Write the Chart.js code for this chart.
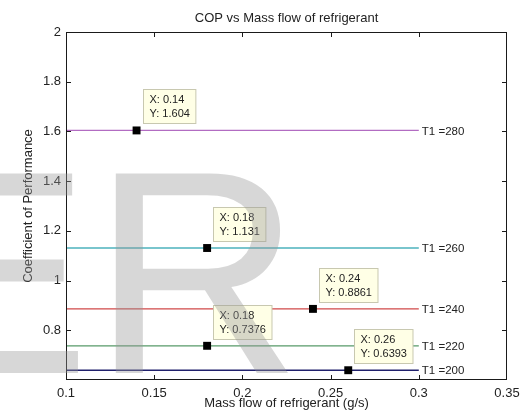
<!DOCTYPE html>
<html lang="en">
  <head>
    <meta charset="UTF-8" />
    <title>COP vs Mass flow of refrigerant</title>
    <script src="https://cdn.jsdelivr.net/npm/chart.js"></script>
    <style>
      html, body { margin: 0; padding: 0; background: #fff; }
      #wrap { width: 527px; height: 419px; }
    </style>
  </head>
  <body>
    <div id="wrap"><canvas id="chart"></canvas></div>
    <script>
      // curves: COP is constant over the mass flow range
      const flowRange = [0.1, 0.3];
      const curveLabels = ["T1 =280", "T1 =260", "T1 =240", "T1 =220", "T1 =200"];
      const copValues = [1.604, 1.131, 0.8861, 0.7376, 0.6393];

      // data tips
      const tipX = [0.14, 0.18, 0.24, 0.18, 0.26];
      const tipY = [1.604, 1.131, 0.8861, 0.7376, 0.6393];

      const lineColors = ["#b26cc2", "#4cb2bd", "#d04848", "#579a68", "#20206c"];
      const FONT = "'Liberation Sans', Arial, sans-serif";

      // matlab style tick text: 0.1, 1, 1.2 (no trailing zeros)
      const fmt = (v) => String(+v.toFixed(3));

      const datasets = copValues.map((v, i) => ({
        type: "line",
        label: curveLabels[i],
        data: flowRange.map((x) => ({ x: x, y: v })),
        borderColor: lineColors[i],
        borderWidth: 1.3,
        pointRadius: 0,
        order: 1,
      }));
      datasets.push({
        type: "scatter",
        label: "tips",
        data: tipX.map((x, i) => ({ x: x, y: tipY[i] })),
        pointStyle: "rect",
        pointRadius: 5.6,
        backgroundColor: "#000",
        borderColor: "#000",
        borderWidth: 0,
        order: 0,
      });

      const matlabPlugin = {
        id: "matlab",
        afterDatasetsDraw(chart) {
          const { ctx, chartArea: a, scales } = chart;
          const xs = scales.x, ys = scales.y;
          ctx.save();
          // axes box
          ctx.strokeStyle = "#1a1a1a";
          ctx.lineWidth = 1;
          ctx.strokeRect(a.left + 0.5, a.top + 0.5, a.right - a.left - 1, a.bottom - a.top - 1);
          // inward ticks
          ctx.beginPath();
          xs.ticks.forEach((t) => {
            const px = Math.round(xs.getPixelForValue(t.value)) + 0.5;
            if (px <= a.left + 1 || px >= a.right - 1) return;
            ctx.moveTo(px, a.bottom); ctx.lineTo(px, a.bottom - 5);
            ctx.moveTo(px, a.top); ctx.lineTo(px, a.top + 5);
          });
          ys.ticks.forEach((t) => {
            const py = Math.round(ys.getPixelForValue(t.value)) + 0.5;
            if (py <= a.top + 1 || py >= a.bottom - 1) return;
            ctx.moveTo(a.left, py); ctx.lineTo(a.left + 5, py);
            ctx.moveTo(a.right, py); ctx.lineTo(a.right - 5, py);
          });
          ctx.stroke();

          // curve labels at line ends
          ctx.fillStyle = "#222";
          ctx.font = "11.5px " + FONT;
          ctx.textAlign = "left";
          ctx.textBaseline = "middle";
          copValues.forEach((v, i) => {
            const pts = chart.getDatasetMeta(i).data;
            const p = pts[pts.length - 1];
            ctx.fillText(curveLabels[i], p.x + 3, p.y + 1);
          });

          // data tip boxes
          ctx.font = "11px " + FONT;
          const tipMeta = chart.getDatasetMeta(datasets.length - 1).data;
          tipMeta.forEach((p, i) => {
            const l1 = "X: " + tipX[i];
            const l2 = "Y: " + tipY[i];
            const w = Math.max(ctx.measureText(l1).width, ctx.measureText(l2).width) + 12;
            const h = 34;
            const bx = Math.round(p.x + 6) + 0.5;
            const by = Math.round(p.y - 7 - h) + 0.5;
            ctx.fillStyle = "#ffffe6";
            ctx.fillRect(bx, by, w, h);
            ctx.strokeStyle = "#c8c8b0";
            ctx.strokeRect(bx, by, w, h);
            ctx.fillStyle = "#222";
            ctx.textBaseline = "middle";
            ctx.fillText(l1, bx + 6, by + 10);
            ctx.fillText(l2, bx + 6, by + 24);
          });
          ctx.restore();
        },
        afterDraw(chart) {
          const { ctx, chartArea: a } = chart;
          ctx.save();
          // title centred over the axes
          ctx.fillStyle = "#222";
          ctx.font = "13px " + FONT;
          ctx.textAlign = "center";
          ctx.textBaseline = "middle";
          ctx.fillText("COP vs Mass flow of refrigerant", (a.left + a.right) / 2, 18);
          // faded watermark lying over the figure
          ctx.fillStyle = "rgba(150,150,150,0.38)";
          ctx.font = "290px " + FONT;
          ctx.textAlign = "left";
          ctx.textBaseline = "alphabetic";
          ctx.fillText("E", -103, 373);
          ctx.fillText("R", 92, 373);
          ctx.restore();
        },
      };

      new Chart(document.getElementById("chart"), {
        data: { datasets: datasets },
        plugins: [matlabPlugin],
        options: {
          responsive: true,
          maintainAspectRatio: false,
          animation: false,
          layout: { padding: { left: 0, right: 20, top: 32, bottom: 0 } },
          plugins: {
            legend: { display: false },
            tooltip: { enabled: false },
            title: { display: false },
          },
          scales: {
            x: {
              type: "linear",
              min: 0.1,
              max: 0.35,
              afterFit: (s) => { s.height = 39; },
              grid: { display: false, drawTicks: false },
              border: { display: false },
              ticks: {
                stepSize: 0.05,
                padding: 6,
                color: "#222",
                font: { family: FONT, size: 13 },
                callback: (v) => fmt(v),
              },
              title: {
                display: true,
                text: "Mass flow of refrigerant (g/s)",
                color: "#222",
                font: { family: FONT, size: 13 },
                padding: { top: 0, bottom: 8 },
              },
            },
            y: {
              type: "linear",
              min: 0.6,
              max: 2,
              afterFit: (s) => { s.width = 66; },
              // the lower limit carries no label in the original
              afterBuildTicks: (s) => { s.ticks = s.ticks.filter((t) => t.value > 0.7); },
              grid: { display: false, drawTicks: false },
              border: { display: false },
              ticks: {
                stepSize: 0.2,
                padding: 5,
                color: "#222",
                font: { family: FONT, size: 13 },
                callback: (v) => fmt(v),
              },
              title: {
                display: true,
                text: "Coefficient of Performance",
                color: "#222",
                font: { family: FONT, size: 13 },
                padding: { top: 21, bottom: 0 },
              },
            },
          },
        },
      });
    </script>
  </body>
</html>
